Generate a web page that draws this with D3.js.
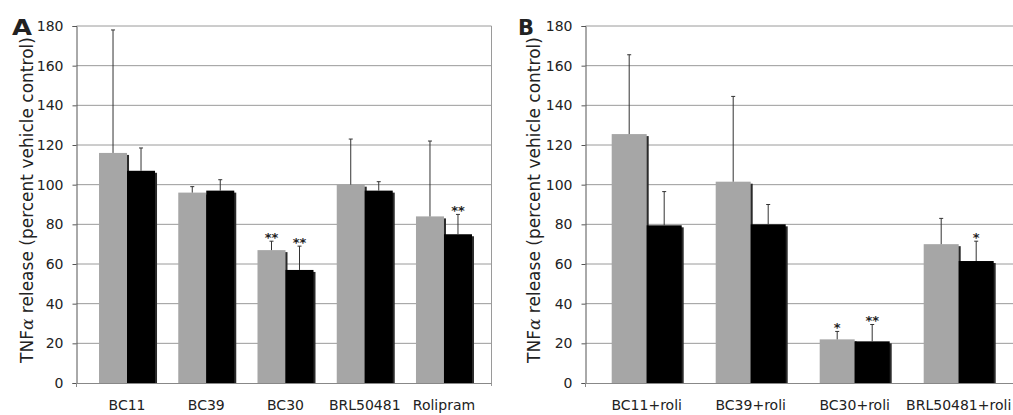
<!DOCTYPE html>
<html>
<head>
<meta charset="utf-8">
<script src="https://cdn.jsdelivr.net/npm/d3@7"></script>
<style>
  body { margin: 0; background: #fff; }
  svg { display: block; }
  text { font-family: "DejaVu Sans", Verdana, sans-serif; fill: #222; }
</style>
</head>
<body>
<div id="chart"></div>
<script>
'use strict';

// Panel A data
const catsA = ["BC11", "BC39", "BC30", "BRL50481", "Rolipram"];
const grayA = [116, 96, 67, 100, 84];
const grayErrA = [62, 3, 4.5, 23, 38];
const blackA = [107, 97, 57, 97, 75];
const blackErrA = [11.5, 5.5, 12, 4.5, 10];
const graySigA = ["", "", "**", "", ""];
const blackSigA = ["", "", "**", "", "**"];

// Panel B data
const catsB = ["BC11+roli", "BC39+roli", "BC30+roli", "BRL50481+roli"];
const grayB = [125.5, 101.5, 22, 70];
const grayErrB = [40, 43, 4, 13];
const blackB = [79.5, 80, 21, 61.5];
const blackErrB = [17, 10, 8.5, 10];
const graySigB = ["", "", "*", ""];
const blackSigB = ["", "", "**", "*"];

const yTicks = [0, 20, 40, 60, 80, 100, 120, 140, 160, 180];

const width = 1013, height = 415;
const plotTop = 26, plotBottom = 383;

const svg = d3.select("#chart")
    .append("svg")
    .attr("width", width)
    .attr("height", height);

function drawPanel(p) {
    const g = svg.append("g");

    const yScale = d3.scaleLinear().domain([0, 180]).range([plotBottom, plotTop]);
    const xScale = d3.scaleBand().domain(p.cats).range(p.band);
    const sub = d3.scaleBand().domain(["gray", "black"])
        .range([0, p.barW * 2]);
    const off = (xScale.bandwidth() - p.barW * 2) / 2;

    // gridlines
    g.append("g")
        .selectAll("line")
        .data(yTicks.slice(1))
        .enter()
        .append("line")
        .attr("x1", p.left).attr("x2", p.right)
        .attr("y1", d => yScale(d)).attr("y2", d => yScale(d))
        .attr("stroke", "#9a9a9a")
        .attr("stroke-width", 1);

    if (p.rightBorder) {
        g.append("line")
            .attr("x1", p.right).attr("x2", p.right)
            .attr("y1", plotTop).attr("y2", plotBottom + 3)
            .attr("stroke", "#9a9a9a");
    }

    // y axis
    const yAxis = g.append("g")
        .attr("transform", `translate(${p.left},0)`)
        .call(d3.axisLeft(yScale).tickValues(yTicks).tickSize(4).tickPadding(9));
    yAxis.select(".domain").attr("stroke", "#555");
    yAxis.selectAll(".tick line").attr("stroke", "#555");
    yAxis.selectAll(".tick text")
        .attr("font-size", 14)
        .attr("font-family", "DejaVu Sans, Verdana, sans-serif")
        .attr("fill", "#333");

    // x axis line
    g.append("line")
        .attr("x1", p.left).attr("x2", p.right)
        .attr("y1", plotBottom + 0.5).attr("y2", plotBottom + 0.5)
        .attr("stroke", "#888");
    g.append("line")
        .attr("x1", p.left).attr("x2", p.left)
        .attr("y1", plotBottom).attr("y2", plotBottom + 4)
        .attr("stroke", "#888");

    // bars
    const rows = p.cats.map((c, i) => ([
        {cat: c, key: "gray", v: p.gray[i], e: p.grayErr[i], sig: p.graySig[i], fill: "#a6a6a6"},
        {cat: c, key: "black", v: p.black[i], e: p.blackErr[i], sig: p.blackSig[i], fill: "#000"}
    ])).flat();

    const bx = d => xScale(d.cat) + off + sub(d.key);

    g.append("g").selectAll("rect")
        .data(rows)
        .enter()
        .append("rect")
        .attr("x", d => bx(d) + 2)
        .attr("y", d => yScale(d.v) + 2)
        .attr("width", sub.bandwidth())
        .attr("height", d => plotBottom - yScale(d.v) - 2)
        .attr("fill", "#2a2a2a");

    g.append("g").selectAll("rect")
        .data(rows)
        .enter()
        .append("rect")
        .attr("x", bx)
        .attr("y", d => yScale(d.v))
        .attr("width", sub.bandwidth())
        .attr("height", d => plotBottom - yScale(d.v))
        .attr("fill", d => d.fill);

    // error bars
    const err = g.append("g")
        .attr("stroke", "#333")
        .attr("stroke-width", 1);
    err.selectAll("line.v")
        .data(rows)
        .enter()
        .append("line")
        .attr("class", "v")
        .attr("x1", d => bx(d) + sub.bandwidth() / 2)
        .attr("x2", d => bx(d) + sub.bandwidth() / 2)
        .attr("y1", d => yScale(d.v))
        .attr("y2", d => yScale(d.v + d.e));
    err.selectAll("line.c")
        .data(rows)
        .enter()
        .append("line")
        .attr("class", "c")
        .attr("x1", d => bx(d) + sub.bandwidth() / 2 - 2)
        .attr("x2", d => bx(d) + sub.bandwidth() / 2 + 2)
        .attr("y1", d => yScale(d.v + d.e))
        .attr("y2", d => yScale(d.v + d.e));

    // significance stars
    g.append("g").selectAll("text")
        .data(rows.filter(d => d.sig))
        .enter()
        .append("text")
        .attr("x", d => bx(d) + sub.bandwidth() / 2)
        .attr("y", d => yScale(d.v + d.e) + 1)
        .attr("text-anchor", "middle")
        .attr("font-size", 13)
        .attr("font-weight", "bold")
        .text(d => d.sig);

    // category labels
    g.append("g").selectAll("text")
        .data(p.cats)
        .enter()
        .append("text")
        .attr("x", d => xScale(d) + xScale.bandwidth() / 2)
        .attr("y", 410)
        .attr("text-anchor", "middle")
        .attr("font-size", 14)
        .attr("fill", "#333")
        .text(String);

    // y title
    const title = g.append("text")
        .attr("transform", `translate(${p.titleX},200) rotate(-90)`)
        .attr("text-anchor", "middle")
        .attr("font-size", 17)
        .attr("fill", "#222");
    title.append("tspan").text("TNF");
    title.append("tspan").attr("font-family", "DejaVu Serif, serif")
        .attr("font-style", "italic").text("α");
    title.append("tspan").text(" release (percent vehicle control)");

    // panel letter
    g.append("text")
        .attr("x", p.letterX)
        .attr("y", 35)
        .attr("font-family", "Liberation Sans, Arial, sans-serif")
        .attr("font-weight", "bold")
        .attr("font-size", 21)
        .attr("fill", "#000")
        .attr("textLength", p.letterW)
        .attr("lengthAdjust", "spacingAndGlyphs")
        .text(p.letter);
}

drawPanel({
    cats: catsA, gray: grayA, grayErr: grayErrA, black: blackA, blackErr: blackErrA,
    graySig: graySigA, blackSig: blackSigA,
    left: 76.5, right: 491.5, band: [87.4, 483.6], barW: 28, rightBorder: true,
    titleX: 33, letter: "A", letterX: 12, letterW: 20
});

drawPanel({
    cats: catsB, gray: grayB, grayErr: grayErrB, black: blackB, blackErr: blackErrB,
    graySig: graySigB, blackSig: blackSigB,
    left: 585.5, right: 1013, band: [594.7, 1010.7], barW: 35, rightBorder: false,
    titleX: 540, letter: "B", letterX: 518, letterW: 16
});
</script>
</body>
</html>
